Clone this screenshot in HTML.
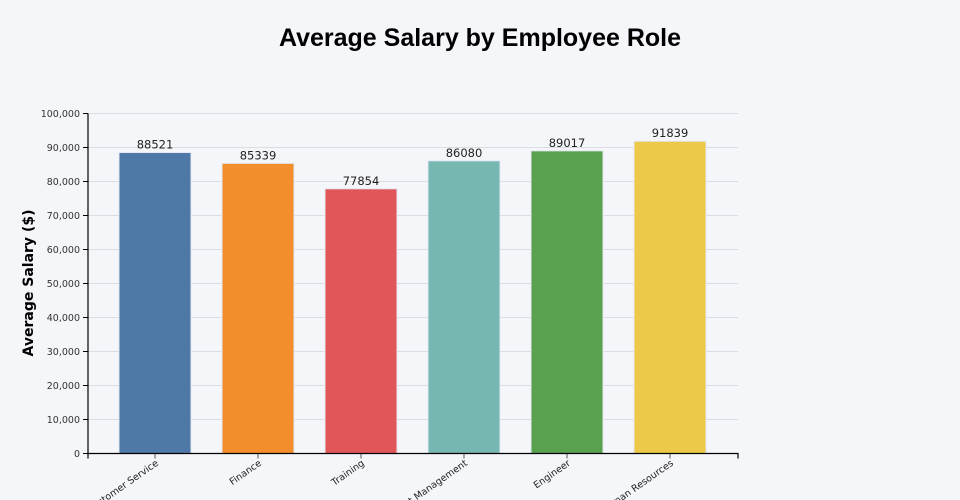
<!DOCTYPE html>
<html><head><meta charset="utf-8"><style>
body{margin:0;background:#f5f6fa;}
svg{display:block;font-family:"DejaVu Sans","Liberation Sans",sans-serif;}
</style></head><body>
<svg id="chart" width="960" height="500">
<rect width="960" height="500" fill="#f5f6fa"/>
<text x="480" y="46" text-anchor="middle" font-size="25" font-weight="bold" fill="#000" style="font-family:'Liberation Sans',sans-serif">Average Salary by Employee Role</text>
<text transform="translate(33,283) rotate(-90)" text-anchor="middle" font-size="14" font-weight="bold" fill="#000">Average Salary ($)</text>
<g id="grid"></g><g id="bars"></g><g id="axes"></g>
</svg>
<script>
const categories=["Customer Service","Finance","Training","Project Management","Engineer","Human Resources"];
const values=[88521,85339,77854,86080,89017,91839];
const colors=["#4e79a7","#f28e2c","#e15759","#76b7b2","#59a14f","#edc949"];
const yTicks=[0,10000,20000,30000,40000,50000,60000,70000,80000,90000,100000];
const NS="http://www.w3.org/2000/svg";
const L=88,R=738,T=113.5,B=453.5,yMax=100000;
const bw=72;
function y(v){return B-(v/yMax)*(B-T);}
function xc(i){return L+67+i*103;}
function mk(tag,attrs,parent,txt){const e=document.createElementNS(NS,tag);for(const k in attrs)e.setAttribute(k,attrs[k]);if(txt!==undefined)e.textContent=txt;parent.appendChild(e);return e;}
const grid=document.getElementById('grid'),bars=document.getElementById('bars'),axes=document.getElementById('axes');
yTicks.forEach(t=>{
 const g=mk('line',{x1:L,x2:R,y1:y(t),y2:y(t),stroke:'#dcdde2','stroke-width':1},grid);
 
 
 const tk=mk('line',{x1:L-5,x2:L,y1:y(t),y2:y(t),stroke:'#000'},axes);
 
 
 const lb=mk('text',{x:L-8,y:y(t)+3.5,'text-anchor':'end','font-size':9.5,fill:'#333'},axes,t.toLocaleString('en-US'));
 
 
});
values.forEach((v,i)=>{
 const r=mk('rect',{x:xc(i)-bw/2,y:y(v),width:bw,height:B-y(v),fill:colors[i],stroke:'#e3e8f2','stroke-width':1},bars);
 
 
 const t=mk('text',{x:xc(i),y:y(v)-4,'text-anchor':'middle','font-size':11.5,fill:'#222'},bars,String(v));
 
 
 const tk=mk('line',{x1:xc(i),x2:xc(i),y1:B,y2:B+5,stroke:'#555'},axes);
 
 
 const xl=mk('text',{transform:`translate(${xc(i)+4},${B+11}) rotate(-35)`,'text-anchor':'end','font-size':9.5,fill:'#222'},axes,categories[i]);
 
 
});
const ya=mk('line',{x1:L,x2:L,y1:T,y2:B,stroke:'#000','stroke-width':1.2},axes);


const xa=mk('path',{d:`M${L},${B+5}V${B}H${R}V${B+5}`,stroke:'#000',fill:'none','stroke-width':1.2},axes);


</script>
</body></html>
